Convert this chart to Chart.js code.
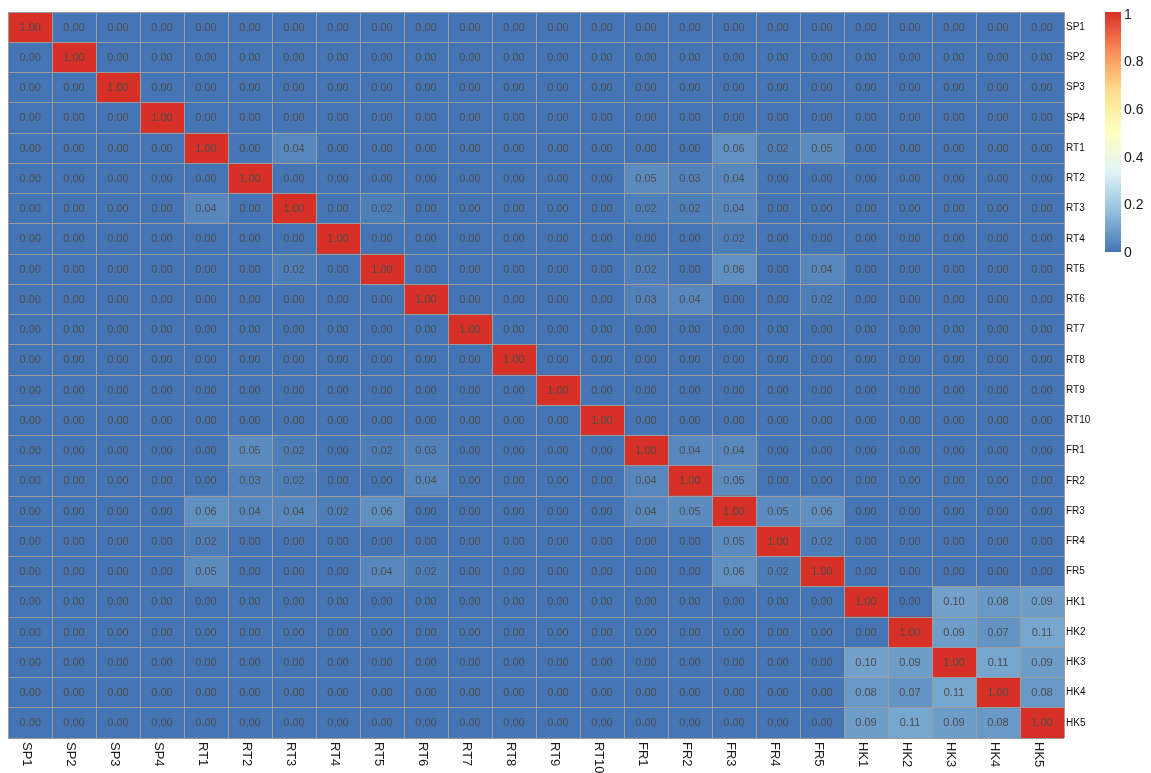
<!DOCTYPE html>
<html>
<head>
<meta charset="utf-8">
<title>Correlation heatmap</title>
<script src="https://cdn.jsdelivr.net/npm/chart.js@4.4.1/dist/chart.umd.min.js"></script>
<style>
  html, body { margin: 0; padding: 0; background: #ffffff; }
  #wrap { width: 1151px; height: 773px; }
</style>
</head>
<body>
<div id="wrap"><canvas id="heat" width="1151" height="773"></canvas></div>
<script>
// Sample labels (rows top-to-bottom, columns left-to-right)
const rowLabels = ['SP1','SP2','SP3','SP4',
  'RT1','RT2','RT3','RT4','RT5','RT6','RT7','RT8','RT9','RT10',
  'FR1','FR2','FR3','FR4','FR5',
  'HK1','HK2','HK3','HK4','HK5'];
const colLabels = rowLabels.slice();

// Pairwise values, one row per sample:   SP (4) | RT (10) | FR (5) | HK (5)
const values = [
  [1,0,0,0,  0,0,0,0,0,0,0,0,0,0,  0,0,0,0,0,  0,0,0,0,0],
  [0,1,0,0,  0,0,0,0,0,0,0,0,0,0,  0,0,0,0,0,  0,0,0,0,0],
  [0,0,1,0,  0,0,0,0,0,0,0,0,0,0,  0,0,0,0,0,  0,0,0,0,0],
  [0,0,0,1,  0,0,0,0,0,0,0,0,0,0,  0,0,0,0,0,  0,0,0,0,0],
  [0,0,0,0,  1,0,0.04,0,0,0,0,0,0,0,  0,0,0.06,0.02,0.05,  0,0,0,0,0],
  [0,0,0,0,  0,1,0,0,0,0,0,0,0,0,  0.05,0.03,0.04,0,0,  0,0,0,0,0],
  [0,0,0,0,  0.04,0,1,0,0.02,0,0,0,0,0,  0.02,0.02,0.04,0,0,  0,0,0,0,0],
  [0,0,0,0,  0,0,0,1,0,0,0,0,0,0,  0,0,0.02,0,0,  0,0,0,0,0],
  [0,0,0,0,  0,0,0.02,0,1,0,0,0,0,0,  0.02,0,0.06,0,0.04,  0,0,0,0,0],
  [0,0,0,0,  0,0,0,0,0,1,0,0,0,0,  0.03,0.04,0,0,0.02,  0,0,0,0,0],
  [0,0,0,0,  0,0,0,0,0,0,1,0,0,0,  0,0,0,0,0,  0,0,0,0,0],
  [0,0,0,0,  0,0,0,0,0,0,0,1,0,0,  0,0,0,0,0,  0,0,0,0,0],
  [0,0,0,0,  0,0,0,0,0,0,0,0,1,0,  0,0,0,0,0,  0,0,0,0,0],
  [0,0,0,0,  0,0,0,0,0,0,0,0,0,1,  0,0,0,0,0,  0,0,0,0,0],
  [0,0,0,0,  0,0.05,0.02,0,0.02,0.03,0,0,0,0,  1,0.04,0.04,0,0,  0,0,0,0,0],
  [0,0,0,0,  0,0.03,0.02,0,0,0.04,0,0,0,0,  0.04,1,0.05,0,0,  0,0,0,0,0],
  [0,0,0,0,  0.06,0.04,0.04,0.02,0.06,0,0,0,0,0,  0.04,0.05,1,0.05,0.06,  0,0,0,0,0],
  [0,0,0,0,  0.02,0,0,0,0,0,0,0,0,0,  0,0,0.05,1,0.02,  0,0,0,0,0],
  [0,0,0,0,  0.05,0,0,0,0.04,0.02,0,0,0,0,  0,0,0.06,0.02,1,  0,0,0,0,0],
  [0,0,0,0,  0,0,0,0,0,0,0,0,0,0,  0,0,0,0,0,  1,0,0.10,0.08,0.09],
  [0,0,0,0,  0,0,0,0,0,0,0,0,0,0,  0,0,0,0,0,  0,1,0.09,0.07,0.11],
  [0,0,0,0,  0,0,0,0,0,0,0,0,0,0,  0,0,0,0,0,  0.10,0.09,1,0.11,0.09],
  [0,0,0,0,  0,0,0,0,0,0,0,0,0,0,  0,0,0,0,0,  0.08,0.07,0.11,1,0.08],
  [0,0,0,0,  0,0,0,0,0,0,0,0,0,0,  0,0,0,0,0,  0.09,0.11,0.09,0.08,1]
];

// Colour-bar ticks
const legendTicks = [0, 0.2, 0.4, 0.6, 0.8, 1];

// Diverging blue-yellow-red ramp (low -> high)
const ramp = ['#4575B4','#91BFDB','#E0F3F8','#FFFFBF','#FEE090','#FC8D59','#D73027'];

function hexToRgb(h) {
  const n = parseInt(h.slice(1), 16);
  return [(n >> 16) & 255, (n >> 8) & 255, n & 255];
}
const rampRgb = ramp.map(hexToRgb);
function colourFor(v) {
  const t = Math.max(0, Math.min(1, v)) * (rampRgb.length - 1);
  const i = Math.min(Math.floor(t), rampRgb.length - 2);
  const f = t - i;
  const a = rampRgb[i], b = rampRgb[i + 1];
  const c = a.map((x, k) => Math.round(x + (b[k] - x) * f));
  return 'rgb(' + c.join(',') + ')';
}

const FONT = '"Liberation Sans", Arial, Helvetica, sans-serif';
const GRID = '#9d9d9d';

// One floating-bar dataset per column: each bar spans [j, j+1] on the x scale
const datasets = colLabels.map((name, j) => ({
  label: name,
  data: rowLabels.map(() => [j, j + 1]),
  backgroundColor: rowLabels.map((r, i) => colourFor(values[i][j])),
  borderWidth: 0,
  barPercentage: 1,
  categoryPercentage: 1,
  grouped: false
}));

// Value text inside each cell, column names below, colour bar on the right
const heatDecor = {
  id: 'heatDecor',
  afterDatasetsDraw(chart) {
    const ctx = chart.ctx;
    ctx.save();
    ctx.font = '11px ' + FONT;
    ctx.fillStyle = '#4d4d4d';
    ctx.textAlign = 'center';
    ctx.textBaseline = 'middle';
    chart.data.datasets.forEach((ds, j) => {
      chart.getDatasetMeta(j).data.forEach((el, i) => {
        const p = el.getCenterPoint();
        ctx.fillText(values[i][j].toFixed(2), p.x, p.y + 0.5);
      });
    });
    ctx.restore();
  },
  afterDraw(chart) {
    const ctx = chart.ctx;
    const xs = chart.scales.x;
    const area = chart.chartArea;
    ctx.save();
    // column labels, rotated to read downward
    ctx.font = '13px ' + FONT;
    ctx.fillStyle = '#1a1a1a';
    ctx.textAlign = 'left';
    ctx.textBaseline = 'middle';
    colLabels.forEach((name, j) => {
      const x = xs.getPixelForValue(j + 0.5) - 3;
      ctx.save();
      ctx.translate(x, area.bottom + 4);
      ctx.rotate(Math.PI / 2);
      ctx.fillText(name, 0, 0);
      ctx.restore();
    });

    // colour bar
    const barX = 1105, barW = 16, barTop = 12, barBottom = 252;
    const g = ctx.createLinearGradient(0, barBottom, 0, barTop);
    ramp.forEach((c, k) => g.addColorStop(k / (ramp.length - 1), c));
    ctx.fillStyle = g;
    ctx.fillRect(barX, barTop, barW, barBottom - barTop);
    ctx.font = '14px ' + FONT;
    ctx.fillStyle = '#1a1a1a';
    ctx.textAlign = 'left';
    ctx.textBaseline = 'middle';
    legendTicks.forEach(v => {
      const y = 253 - v * 238;
      ctx.fillText(String(v), barX + barW + 3, y);
    });
    ctx.restore();
  }
};

new Chart(document.getElementById('heat'), {
  type: 'bar',
  data: { labels: rowLabels, datasets },
  options: {
    indexAxis: 'y',
    responsive: false,
    animation: false,
    events: [],
    layout: { padding: { left: 8, top: 12, right: 0, bottom: 0 } },
    plugins: { legend: { display: false }, tooltip: { enabled: false } },
    scales: {
      x: {
        type: 'linear',
        position: 'bottom',
        min: 0,
        max: colLabels.length,
        ticks: { display: false, stepSize: 1 },
        grid: { color: GRID, lineWidth: 1, drawTicks: false, z: 1 },
        border: { display: false },
        afterFit(scale) { scale.height = 35; }
      },
      y: {
        type: 'category',
        position: 'right',
        offset: true,
        grid: { color: GRID, lineWidth: 1, offset: true, drawTicks: false, z: 1 },
        border: { display: false },
        ticks: {
          font: { family: FONT, size: 10 },
          color: '#111111',
          padding: 2,
          autoSkip: false
        },
        afterFit(scale) { scale.width = 87; }
      }
    }
  },
  plugins: [heatDecor]
});
</script>
</body>
</html>
